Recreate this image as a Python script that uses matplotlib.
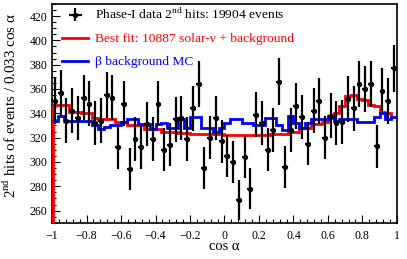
import matplotlib
matplotlib.use('Agg')
import matplotlib.pyplot as plt
import numpy as np

plt.rcParams['font.family'] = ['Liberation Serif', 'DejaVu Serif']
plt.rcParams['mathtext.fontset'] = 'custom'
plt.rcParams['mathtext.rm'] = 'Liberation Serif'

# 60 bins in cos alpha, width 0.033
edges = np.linspace(-1, 1, 61)
centers = 0.5 * (edges[:-1] + edges[1:])

# data: 2nd hits per bin
data = [350, 357, 334, 342, 336, 353, 348, 332, 334, 355,
        353, 312, 348, 294, 319, 312, 331, 319, 348, 310,
        314, 335, 336, 319, 344, 364, 295, 320, 336, 317,
        305, 300, 269, 304, 278, 339, 332, 310, 326, 366,
        296, 326, 346, 337, 315, 342, 350, 320, 338, 332,
        333, 352, 344, 364, 360, 364, 313, 358, 350, 377]

# best fit (solar nu + background)
fit = [346.5, 346.5, 346.5, 341, 341, 340, 340, 336, 335, 335,
       335, 333, 333, 330, 330, 330, 327, 327, 327, 325,
       325, 325, 324, 324, 323, 323, 323, 323, 323, 323,
       322.5, 322.5, 322.5, 322.5, 322.5, 322.5, 322.5, 322.5, 323, 323,
       323, 325, 325, 328, 328, 331, 331, 333, 336, 340,
       346, 354, 355, 352, 351, 347, 346, 341, 340, 337]

# beta background MC
bkg = [334, 338, 334, 334, 334, 334, 334, 330, 327, 329,
       330, 330, 333, 335, 335, 331, 331, 327, 331, 332,
       328, 328, 335, 328, 337, 337, 328, 328, 325, 328,
       332, 335, 335, 332, 332, 330, 330, 336, 336, 330,
       326, 337.5, 332, 328, 332, 335, 335, 335, 337.5, 334,
       335, 335, 335, 333, 333, 333, 337, 340, 335, 337]

labels = ['Phase-I data 2$^{\\mathrm{nd}}$ hits: 19904 events',
          'Best fit: 10887 solar-ν + background',
          'β background MC']

ymin, ymax = 250, 430

fig = plt.figure(figsize=(4.07, 2.59), dpi=100)
ax = fig.add_axes([0.128, 0.140, 0.847, 0.845])

ax.stairs(fit, edges, baseline=None, color='red', lw=2, label=labels[1], zorder=2)
ax.vlines(edges[0], ymin, fit[0], color='red', lw=3.5, zorder=3)
ax.stairs(bkg, edges, baseline=None, color='blue', lw=2, label=labels[2], zorder=3)
ax.errorbar(centers, data, yerr=np.sqrt(data), xerr=0.5 * (edges[1] - edges[0]),
            fmt='o', color='black', ms=2.8, lw=1.6, capsize=0,
            label=labels[0], zorder=4)

ax.set_xlim(-1, 1)
ax.set_ylim(ymin, ymax)
ax.set_xticks(np.arange(-1, 1.01, 0.2))
ax.set_xticks(np.arange(-1, 1.01, 0.04), minor=True)
ax.set_yticks(np.arange(260, 421, 20))
ax.set_yticks(np.arange(250, 431, 5), minor=True)
ax.set_xticklabels(['−1', '−0.8', '−0.6', '−0.4', '−0.2', '0',
                    '0.2', '0.4', '0.6', '0.8', '1'])
ax.tick_params(which='both', direction='in', labelsize=8.6, width=0.8)
ax.tick_params(which='major', length=6)
ax.tick_params(which='minor', length=3)
ax.tick_params(axis='x', pad=5)
for s in ax.spines.values():
    s.set_linewidth(1.2)

ax.set_xlabel('cos α', fontsize=10.5)
ax.xaxis.set_label_coords(0.5, -0.08)
ax.set_ylabel('2$^{\\mathrm{nd}}$ hits of events / 0.033 cos α', fontsize=10.8)
ax.yaxis.set_label_coords(-0.095, 0.535)

h, l = ax.get_legend_handles_labels()
order = [2, 0, 1]
leg = ax.legend([h[i] for i in order], [l[i] for i in order], loc='upper left',
                bbox_to_anchor=(-0.005, 1.04), frameon=False, fontsize=9.7,
                handlelength=1.9, labelspacing=0.78, handletextpad=0.5)
for t, c in zip(leg.get_texts(), ['black', 'red', 'blue']):
    t.set_color(c)

fig.savefig('out.png', dpi=100)
